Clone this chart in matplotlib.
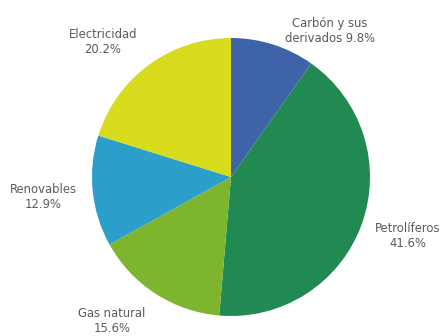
import matplotlib
matplotlib.use("Agg")
import matplotlib.pyplot as plt

categories = ["Carbón y sus\nderivados", "Petrolíferos", "Gas natural", "Renovables", "Electricidad"]
values = [9.8, 41.6, 15.6, 12.9, 20.2]
colors = ["#3e63a9", "#218a52", "#7db52e", "#2b9fc9", "#d8dc1c"]
label_texts = ["Carbón y sus\nderivados 9.8%", "Petrolíferos\n41.6%", "Gas natural\n15.6%",
               "Renovables\n12.9%", "Electricidad\n20.2%"]

W, H = 442, 336
fig = plt.figure(figsize=(W / 100, H / 100), dpi=100)
cx, cy, r = 231, 177, 139
ax = fig.add_axes([(cx - r) / W, (H - cy - r) / H, 2 * r / W, 2 * r / H])
ax.pie(values, colors=colors, startangle=90, counterclock=False, radius=1,
       wedgeprops=dict(linewidth=0))
ax.set_xlim(-1, 1)
ax.set_ylim(-1, 1)
ax.set_aspect("equal")
ax.axis("off")

# label anchor positions in pixels (layout)
pos = [(330, 31), (408, 236), (112, 321), (43, 197), (103, 42)]
for (px, py), t in zip(pos, label_texts):
    fig.text(px / W, 1 - py / H, t, ha="center", va="center", fontsize=9.3,
             color="#5a5a5a", family="DejaVu Sans", fontstretch="condensed",
             linespacing=1.25)

fig.savefig("out.png", dpi=100)
